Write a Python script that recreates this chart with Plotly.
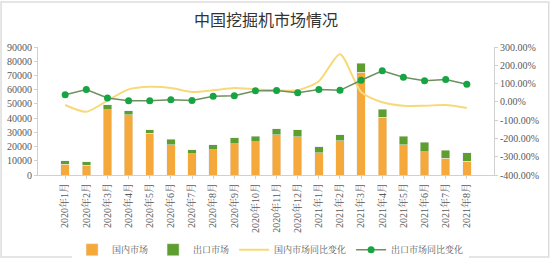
import plotly.graph_objects as go

months = ["2020年1月", "2020年2月", "2020年3月", "2020年4月", "2020年5月", "2020年6月",
          "2020年7月", "2020年8月", "2020年9月", "2020年10月", "2020年11月", "2020年12月",
          "2021年1月", "2021年2月", "2021年3月", "2021年4月", "2021年5月", "2021年6月",
          "2021年7月", "2021年8月"]
domestic = [7700, 7000, 45800, 42300, 29300, 21100, 14800, 17600, 22100, 23500, 28200, 27000,
            15700, 24200, 72300, 40600, 21100, 16400, 11700, 9500]
export = [2400, 2400, 3500, 3000, 2600, 4000, 3000, 3500, 4200, 3700, 4200, 4700,
          4000, 4000, 6300, 5600, 6100, 6800, 5700, 6000]
domestic_yoy = [-17, -54, 7, 68, 82, 76, 54, 63, 76, 68, 63, 63, 113, 261, 54, -2, -21, -21, -17, -33]
export_yoy = [39, 67, 21, 6, 6, 11, 8, 30, 33, 61, 62, 50, 67, 63, 118, 170, 135, 115, 122, 96]

left_ticks = list(range(0, 90001, 10000))
left_text = [str(v) for v in left_ticks]
right_ticks = list(range(-400, 301, 100))
right_text = [f"{v:.2f}%" for v in right_ticks]

num_font = "Liberation Serif, Noto Serif CJK SC, Noto Sans CJK SC"

fig = go.Figure()
fig.add_trace(go.Bar(x=months, y=domestic, name="国内市场", marker_color="#F5A93B"))
fig.add_trace(go.Bar(x=months, y=export, name="出口市场", marker_color="#5E9E2F"))
fig.add_trace(go.Scatter(x=months, y=domestic_yoy, name="国内市场同比变化", yaxis="y2",
                         mode="lines", line=dict(color="#F7D97A", width=2, shape="spline",
                                                 smoothing=0.7)))
fig.add_trace(go.Scatter(x=months, y=export_yoy, name="出口市场同比变化", yaxis="y2",
                         mode="lines+markers", line=dict(color="#6E8F5E", width=1.5),
                         marker=dict(color="#17A543", size=7)))

fig.update_layout(
    width=550, height=259,
    margin=dict(l=38, r=56, t=47, b=84, autoexpand=False),
    paper_bgcolor="white", plot_bgcolor="white",
    barmode="stack", bargap=0.6,
    title=dict(text="中国挖掘机市场情况", x=0.5, xref="paper", xanchor="center",
               y=1 - 20 / 259, yref="container", yanchor="middle",
               font=dict(family="Noto Sans CJK SC", size=16, color="#333333")),
    xaxis=dict(tickangle=-90, automargin=False,
               tickfont=dict(family=num_font, size=10, color="#595959"),
               showline=True, linecolor="#d0d0d0", ticks="outside", ticklen=3,
               tickcolor="#d0d0d0", showgrid=False),
    yaxis=dict(range=[0, 90000], tickvals=left_ticks, ticktext=left_text, automargin=False,
               showgrid=False, zeroline=False,
               showline=True, linecolor="#d0d0d0", ticks="outside", ticklen=3,
               tickcolor="#d0d0d0",
               tickfont=dict(family=num_font, size=10, color="#595959")),
    yaxis2=dict(range=[-400, 300], tickvals=right_ticks, ticktext=right_text, automargin=False,
                overlaying="y", side="right", showgrid=False, zeroline=False,
                showline=True, linecolor="#d0d0d0", ticks="outside", ticklen=3,
                tickcolor="#d0d0d0",
                tickfont=dict(family=num_font, size=10, color="#595959")),
    legend=dict(orientation="h", x=0.51, xanchor="center", y=-0.47, yanchor="top",
                font=dict(family=num_font, size=9, color="#595959"),
                itemwidth=30, traceorder="normal"),
    shapes=[dict(type="rect", xref="paper", yref="paper",
                 x0=-0.081, x1=1.12, y0=-0.64, y1=1.352,
                 line=dict(color="#dddddd", width=1.5), layer="below")],
)

fig.write_html("out.html")
